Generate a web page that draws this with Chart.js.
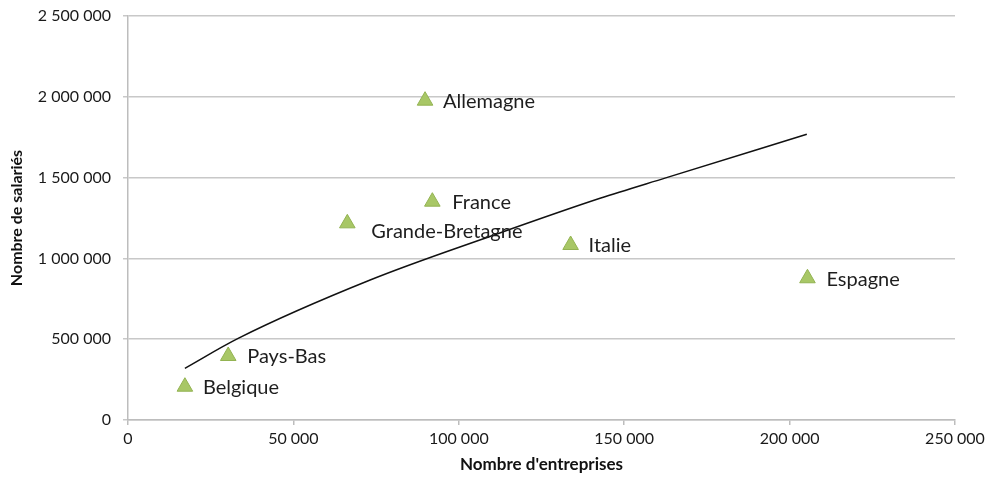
<!DOCTYPE html>
<html><head><meta charset="utf-8">
<script src="https://cdn.jsdelivr.net/npm/chart.js@4.4.1/dist/chart.umd.min.js"></script>
<style>html,body{margin:0;padding:0;background:#fff}#w{width:987px;height:478px}</style>
</head><body><div id="w"><canvas id="c" width="987" height="478"></canvas></div>
<script>
const countries = ['Belgique','Pays-Bas','Grande-Bretagne','Allemagne','France','Italie','Espagne'];
const entreprises = [17200, 30300, 66300, 89800, 92000, 133800, 205400];
const salaries = [206000, 396000, 1217000, 1976000, 1351000, 1083000, 877000];
const trendX = [17200, 33300, 73200, 110000, 142700, 162800, 205200];
const trendY = [320000, 505000, 866000, 1140000, 1372000, 1500000, 1768000];
const labelDy = [0, 0, 7, 0, 0, 0, 0];
const labelDx = [18, 19, 24, 18, 20, 18, 19];

const fmt = v => Math.round(v).toString().replace(/\B(?=(\d{3})+(?!\d))/g, ' ');
const FONT = 'Lato, "Open Sans", sans-serif';

const labelPlugin = {
  id: 'labels',
  afterDatasetsDraw(chart) {
    const {ctx, scales: {x, y}} = chart;
    ctx.save();
    ctx.font = '20px ' + FONT;
    ctx.fillStyle = '#1e1e1e';
    ctx.textBaseline = 'middle';
    ctx.textAlign = 'left';
    countries.forEach((name, i) => {
      const px = x.getPixelForValue(entreprises[i]);
      const py = y.getPixelForValue(salaries[i]);
      ctx.fillText(name, px + labelDx[i], py + 1 + labelDy[i]);
    });
    ctx.restore();
  }
};

new Chart(document.getElementById('c'), {
  type: 'scatter',
  data: {
    datasets: [
      {
        data: entreprises.map((v, i) => ({x: v, y: salaries[i]})),
        pointStyle: 'triangle',
        pointRadius: 9,
        pointHoverRadius: 9,
        backgroundColor: '#a8c766',
        borderColor: '#93b352',
        borderWidth: 1,
        order: 1
      },
      {
        data: trendX.map((v, i) => ({x: v, y: trendY[i]})),
        showLine: true,
        pointRadius: 0,
        borderColor: '#111',
        borderWidth: 1.5,
        cubicInterpolationMode: 'monotone',
        order: 2
      }
    ]
  },
  options: {
    responsive: false,
    animation: false,
    events: [],
    layout: {padding: {top: 16, right: 32, left: 0, bottom: 0}},
    plugins: {legend: {display: false}, tooltip: {enabled: false}},
    scales: {
      x: {
        type: 'linear', min: 0, max: 250000,
        ticks: {stepSize: 50000, callback: v => fmt(v), color: '#1a1a1a', font: {family: FONT, size: 16}, padding: 4, maxRotation: 0},
        grid: {display: true, drawOnChartArea: false, drawTicks: true, tickLength: 5, color: '#bdbdbd', lineWidth: 1.5},
        border: {display: true, color: '#bdbdbd', width: 1.5},
        title: {display: true, text: "Nombre d'entreprises", color: '#111', font: {family: FONT, size: 17, weight: 'bold'}, padding: {top: 2, bottom: 3}},
        afterFit: s => { s.height = 58; s.paddingLeft = 0; s.paddingRight = 0; }
      },
      y: {
        type: 'linear', min: 0, max: 2500000,
        ticks: {stepSize: 500000, callback: v => fmt(v), color: '#1a1a1a', font: {family: FONT, size: 16}, padding: 12},
        grid: {display: true, drawTicks: true, tickLength: 5, color: '#c8c8c8', lineWidth: 1.5},
        border: {display: true, color: '#bdbdbd', width: 1.5},
        title: {display: true, text: 'Nombre de salariés', color: '#111', font: {family: FONT, size: 16, weight: 'bold'}, padding: {top: 7, bottom: 0}},
        afterFit: s => { s.width = 128; s.paddingTop = 0; s.paddingBottom = 0; }
      }
    }
  },
  plugins: [labelPlugin]
});
</script></body></html>
